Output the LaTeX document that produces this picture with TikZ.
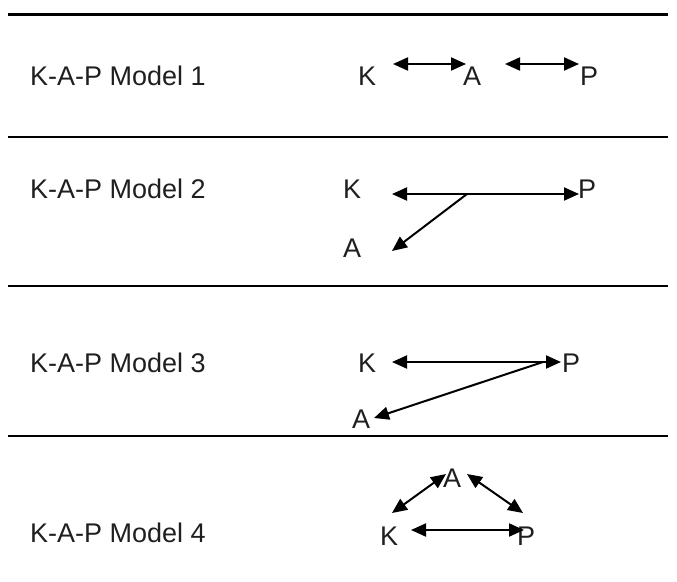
\documentclass[tikz,border=0pt]{standalone}
\usepackage{fontspec}
\setmainfont{Liberation Sans}
\usetikzlibrary{arrows.meta}
\tikzset{
  lab/.style={inner sep=0pt, anchor=base west, text=black!88,
    font=\fontsize{27}{31}\selectfont},
  letter/.style={inner sep=0pt, anchor=base west, text=black!88,
    font=\fontsize{27}{31}\selectfont},
  rule/.style={line width=2.2pt, black},
  tip/.tip={Triangle[length=15pt,width=13pt]},
  oneway/.style={line width=2pt, -tip},
  twoway/.style={line width=2pt, tip-tip},
}
\begin{document}
\begin{tikzpicture}[x=1pt,y=-1pt]
\useasboundingbox (0,0) rectangle (677,581);

% horizontal rules separating the models
\coordinate (r1a) at (8,14.5);  \coordinate (r1b) at (668,14.5);
\coordinate (r2a) at (8,137);   \coordinate (r2b) at (668,137);
\coordinate (r3a) at (8,286);   \coordinate (r3b) at (668,286);
\coordinate (r4a) at (8,436);   \coordinate (r4b) at (668,436);
\draw[rule] (r1a) -- (r1b);
\draw[rule] (r2a) -- (r2b);
\draw[rule] (r3a) -- (r3b);
\draw[rule] (r4a) -- (r4b);

% model names
\node[lab] (n1) at (30,85)  {K-A-P Model 1};
\node[lab] (n2) at (30,198) {K-A-P Model 2};
\node[lab] (n3) at (30,372) {K-A-P Model 3};
\node[lab] (n4) at (30,542) {K-A-P Model 4};

% Model 1: K <-> A <-> P
\node[letter] (k1) at (358,85) {K};
\node[letter] (a1) at (463,85) {A};
\node[letter] (p1) at (580,85) {P};
\coordinate (m1a) at (393,64);
\coordinate (m1b) at (466,64);
\coordinate (m1c) at (505,64);
\coordinate (m1d) at (579,64);
\draw[twoway] (m1a) -- (m1b);
\draw[twoway] (m1c) -- (m1d);

% Model 2: K <-> P, branch to A
\node[letter] (k2) at (343,198) {K};
\node[letter] (p2) at (578,198) {P};
\node[letter] (a2) at (343,257) {A};
\coordinate (m2a) at (392,194);
\coordinate (m2b) at (579,194);
\coordinate (m2j) at (467,194);
\coordinate (m2c) at (392,251);
\draw[twoway] (m2a) -- (m2b);
\draw[oneway] (m2j) -- (m2c);

% Model 3: K <-> P, P -> A
\node[letter] (k3) at (358,372) {K};
\node[letter] (p3) at (562,372) {P};
\node[letter] (a3) at (352,428) {A};
\coordinate (m3a) at (392,362);
\coordinate (m3b) at (561,362);
\coordinate (m3j) at (543,362);
\coordinate (m3c) at (374,418);
\draw[twoway] (m3a) -- (m3b);
\draw[oneway] (m3j) -- (m3c);

% Model 4: triangle K, A, P
\node[letter] (a4) at (443,487) {A};
\node[letter] (k4) at (380,545) {K};
\node[letter] (p4) at (517,545) {P};
\coordinate (m4a) at (411,530);
\coordinate (m4b) at (524,530);
\coordinate (m4c) at (446,474);
\coordinate (m4d) at (392,513);
\coordinate (m4e) at (467,474);
\coordinate (m4f) at (523,513);
\draw[twoway] (m4a) -- (m4b);
\draw[twoway] (m4c) -- (m4d);
\draw[twoway] (m4e) -- (m4f);
\end{tikzpicture}
\end{document}
